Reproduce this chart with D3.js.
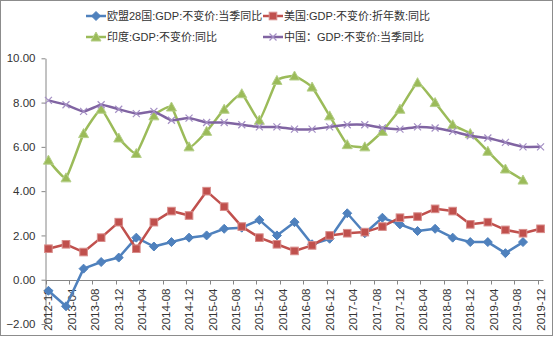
<!DOCTYPE html>
<html lang="zh">
<head>
<meta charset="utf-8">
<title>GDP 同比</title>
<script src="https://cdn.jsdelivr.net/npm/d3@7"></script>
<style>
  body { margin: 0; background: #fff; }
  svg text { font-family: "Liberation Sans", "Noto Sans CJK SC", sans-serif; fill: #333; }
</style>
</head>
<body>
<script>
// quarterly categories
var quarters = ["2012-12","2013-03","2013-06","2013-09","2013-12","2014-03","2014-06","2014-09","2014-12",
  "2015-03","2015-06","2015-09","2015-12","2016-03","2016-06","2016-09","2016-12",
  "2017-03","2017-06","2017-09","2017-12","2018-03","2018-06","2018-09","2018-12",
  "2019-03","2019-06","2019-09","2019-12"];

var tickLabels = ["2012-12","2013-04","2013-08","2013-12","2014-04","2014-08","2014-12","2015-04","2015-08",
  "2015-12","2016-04","2016-08","2016-12","2017-04","2017-08","2017-12","2018-04","2018-08","2018-12",
  "2019-04","2019-08","2019-12"];

var yTicks = [-2, 0, 2, 4, 6, 8, 10];

var euValues = [-0.5, -1.2, 0.5, 0.8, 1.0, 1.9, 1.5, 1.7, 1.9, 2.0, 2.3, 2.35, 2.7, 2.0, 2.6, 1.6, 1.85,
  3.0, 2.1, 2.8, 2.5, 2.2, 2.3, 1.9, 1.7, 1.7, 1.2, 1.7, null];
var usValues = [1.4, 1.6, 1.25, 1.9, 2.6, 1.4, 2.6, 3.1, 2.9, 4.0, 3.3, 2.4, 1.9, 1.6, 1.3, 1.55, 2.0,
  2.1, 2.15, 2.4, 2.8, 2.85, 3.2, 3.1, 2.5, 2.6, 2.25, 2.1, 2.3];
var indiaValues = [5.4, 4.6, 6.6, 7.7, 6.4, 5.7, 7.4, 7.8, 6.0, 6.7, 7.7, 8.4, 7.2, 9.0, 9.2, 8.7, 7.4,
  6.1, 6.0, 6.7, 7.7, 8.9, 8.0, 7.0, 6.6, 5.8, 5.0, 4.5, null];
var chinaValues = [8.1, 7.9, 7.6, 7.9, 7.7, 7.5, 7.6, 7.2, 7.3, 7.1, 7.1, 7.0, 6.9, 6.9, 6.8, 6.8, 6.9,
  7.0, 7.0, 6.85, 6.8, 6.9, 6.85, 6.7, 6.5, 6.4, 6.2, 6.0, 6.0];

var series = [
  {name: "欧盟28国:GDP:不变价:当季同比", values: euValues, color: "#4F81BD", marker: "diamond", smooth: false},
  {name: "美国:GDP:不变价:折年数:同比", values: usValues, color: "#C0504D", marker: "square", smooth: false},
  {name: "印度:GDP:不变价:同比", values: indiaValues, color: "#9BBB59", marker: "triangle", smooth: true},
  {name: "中国：GDP:不变价:当季同比", values: chinaValues, color: "#8064A2", marker: "x", smooth: true}
];

var width = 554, height = 337;
var svg = d3.select("body").append("svg").attr("width", width).attr("height", height);

svg.append("rect").attr("x", 0.5).attr("y", 0.5).attr("width", 552).attr("height", 335)
  .attr("fill", "#fff").attr("stroke", "#8c8c8c");

// date axis in months, points sit in the middle of each month slot
var fmt = d3.timeFormat("%Y-%m");
var months = d3.timeMonth.range(new Date(2012, 11, 1), new Date(2020, 0, 1)).map(fmt);
var x = d3.scaleBand().domain(months).range([45.5, 543.5]);
var bw = x.bandwidth();
var y = d3.scaleLinear().domain([-2, 10]).range([324, 58.3]);

// y axis
var yAxis = svg.append("g").attr("transform", "translate(45.5,0)")
  .call(d3.axisLeft(y).tickValues(yTicks).tickFormat(d3.format(".2f")).tickSize(4).tickSizeOuter(0));
yAxis.select(".domain").attr("stroke", "#868686");
yAxis.selectAll(".tick line").attr("stroke", "#868686");
yAxis.selectAll("text").attr("x", -10).style("font-size", "11.5px").attr("fill", "#333");

// x axis at zero
var y0 = Math.round(y(0)) + 0.5;
var xg = svg.append("g");
xg.append("line").attr("x1", 45.5).attr("x2", 543.5).attr("y1", y0).attr("y2", y0).attr("stroke", "#868686");
xg.selectAll("line.tk").data(tickLabels).enter().append("line").attr("class", "tk")
  .attr("x1", function(d){ return Math.round(x(d)) + 0.5; })
  .attr("x2", function(d){ return Math.round(x(d)) + 0.5; })
  .attr("y1", y0).attr("y2", y0 + 4).attr("stroke", "#868686");
xg.selectAll("text").data(tickLabels).enter().append("text")
  .attr("transform", function(d){ return "translate(" + (x(d) + bw / 2) + "," + (y0 + 8) + ") rotate(-90)"; })
  .attr("text-anchor", "end").attr("dy", "0.35em")
  .style("font-size", "11.5px").text(function(d){ return d; });

// markers
function drawMarker(g, type, color, cx, cy) {
  if (type === "diamond") {
    g.append("path").attr("d", "M" + cx + "," + (cy - 4.5) + "L" + (cx + 4.5) + "," + cy + "L" + cx + "," + (cy + 4.5) + "L" + (cx - 4.5) + "," + cy + "Z")
      .attr("fill", color).attr("stroke", color);
  } else if (type === "square") {
    g.append("rect").attr("x", cx - 3.8).attr("y", cy - 3.8).attr("width", 7.6).attr("height", 7.6)
      .attr("fill", color).attr("stroke", "#d88c8a").attr("stroke-width", 1);
  } else if (type === "triangle") {
    g.append("path").attr("d", "M" + cx + "," + (cy - 5) + "L" + (cx + 5) + "," + (cy + 4) + "L" + (cx - 5) + "," + (cy + 4) + "Z")
      .attr("fill", color).attr("stroke", "#b5cf88");
  } else {
    g.append("path").attr("d", "M" + (cx - 3.5) + "," + (cy - 3.5) + "L" + (cx + 3.5) + "," + (cy + 3.5) + "M" + (cx - 3.5) + "," + (cy + 3.5) + "L" + (cx + 3.5) + "," + (cy - 3.5))
      .attr("stroke", "#a48fc4").attr("stroke-width", 1.2).attr("fill", "none");
  }
}

series.forEach(function(s) {
  var pts = [];
  s.values.forEach(function(v, i) {
    if (v !== null) pts.push([x(quarters[i]) + bw / 2, y(v)]);
  });
  // light smoothing on the India and China lines, as in the source
  var line = d3.line().curve(s.smooth ? d3.curveCardinal.tension(0.6) : d3.curveLinear);
  var g = svg.append("g");
  g.append("path").attr("d", line(pts)).attr("fill", "none").attr("stroke", s.color)
    .attr("stroke-width", 2.5).attr("stroke-linejoin", "round");
  pts.forEach(function(p){ drawMarker(g, s.marker, s.color, p[0], p[1]); });
});

// legend
var legendPos = [[86, 16], [263, 16], [86, 37], [263, 37]];
series.forEach(function(s, i) {
  var lx = legendPos[i][0], ly = legendPos[i][1];
  var g = svg.append("g");
  g.append("line").attr("x1", lx).attr("x2", lx + 20).attr("y1", ly).attr("y2", ly)
    .attr("stroke", s.color).attr("stroke-width", 2.5);
  drawMarker(g, s.marker, s.color, lx + 10, ly);
  g.append("text").attr("x", lx + 21).attr("y", ly).attr("dy", "0.35em")
    .style("font-size", "11px").text(s.name);
});
</script>
</body>
</html>
